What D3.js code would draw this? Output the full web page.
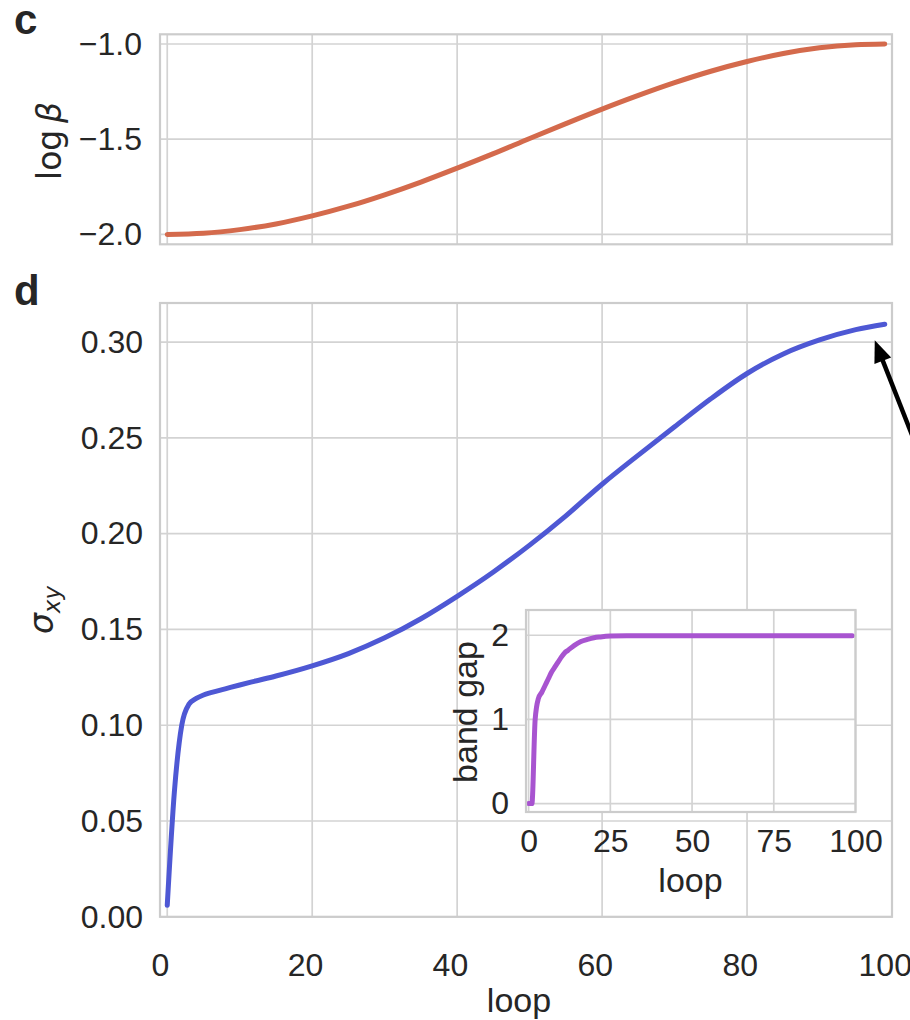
<!DOCTYPE html>
<html>
<head>
<meta charset="utf-8">
<script src="https://cdn.jsdelivr.net/npm/d3@7"></script>
<style>
  body { margin: 0; background: #fff; }
  svg { display: block; }
</style>
</head>
<body>
<div id="chart"></div>
<script>
// ---- data ----
const betaLoops = [0, 5, 10, 15, 20, 25, 30, 35, 40, 45, 50, 55, 60, 65, 70, 75, 80, 85, 90, 95, 99];
const logBeta = [-2.000, -1.994, -1.975, -1.945, -1.903, -1.852, -1.792, -1.725, -1.652, -1.576,
                 -1.496, -1.418, -1.342, -1.270, -1.203, -1.143, -1.092, -1.050, -1.020, -1.004, -1.000];

const sigmaLoops = [0, 1, 2, 3, 4, 5, 6, 8, 10, 12, 15, 20, 25, 30, 35, 40, 45, 50, 55, 60, 65, 70, 75, 80, 85, 90, 95, 99];
const sigmaXY = [0.006, 0.066, 0.100, 0.111, 0.114, 0.1158, 0.117, 0.119, 0.121, 0.1229, 0.1257, 0.1310,
                 0.1374, 0.1456, 0.1556, 0.1673, 0.1800, 0.1940, 0.2093, 0.2258, 0.2410, 0.2558, 0.2704,
                 0.2836, 0.2938, 0.3011, 0.3065, 0.3093];

const gapLoops = [0, 1, 2, 3, 4, 5, 6, 7, 8, 9, 10, 11, 12, 14, 16, 18, 20, 22, 25, 30, 40, 60, 80, 99];
const bandGap = [0, 0, 1.00, 1.25, 1.32, 1.40, 1.48, 1.56, 1.62, 1.68, 1.74, 1.79, 1.82, 1.88, 1.925,
                 1.95, 1.97, 1.98, 1.99, 1.995, 1.995, 1.995, 1.995, 1.995];

const loopTicks = [0, 20, 40, 60, 80, 100];
const betaTicks = [-2.0, -1.5, -1.0];
const sigmaTicks = [0, 0.05, 0.10, 0.15, 0.20, 0.25, 0.30];
const insetLoopTicks = [0, 25, 50, 75, 100];
const insetGapTicks = [0, 1, 2];

// ---- look ----
const TEXT = "#262626";
const GRID = "#d3d3d3";
const SPINE = "#cccccc";
const SANS = "'Liberation Sans', Arial, sans-serif";
const MATH = "'DejaVu Sans', sans-serif";

const svg = d3.select("#chart").append("svg")
  .attr("width", 910)
  .attr("height", 1020)
  .style("background", "#fff");

// shared loop axis for c and d
const x = d3.scaleLinear().domain([-1, 100]).range([160, 892]);
// the tick labels in the source sit one step left of the grid lines
const xLab = d3.scaleLinear().domain([0, 100]).range([x(-1), x(99)]);

const yBeta = d3.scaleLinear().domain([-2.052, -0.949]).range([244.3, 34.3]);
const ySig = d3.scaleLinear().domain([0, 0.3204]).range([916.8, 303]);

const xIn = d3.scaleLinear().domain([-0.8, 100]).range([526, 855.5]);
const yIn = d3.scaleLinear().domain([-0.1, 2.3]).range([812, 610]);

function drawGrid(g, xs, ys, xt, yt) {
  const [x0, x1] = xs.range();
  const [y0, y1] = ys.range();
  g.append("g").selectAll("line").data(xt).join("line")
    .attr("x1", d => xs(d)).attr("x2", d => xs(d))
    .attr("y1", y0).attr("y2", y1)
    .attr("stroke", GRID).attr("stroke-width", 1.7);
  g.append("g").selectAll("line").data(yt).join("line")
    .attr("x1", x0).attr("x2", x1)
    .attr("y1", d => ys(d)).attr("y2", d => ys(d))
    .attr("stroke", GRID).attr("stroke-width", 1.7);
}

function drawFrame(g, xs, ys) {
  const [x0, x1] = xs.range();
  const [y0, y1] = ys.range();
  g.append("rect")
    .attr("x", x0).attr("y", y1)
    .attr("width", x1 - x0).attr("height", y0 - y1)
    .attr("fill", "none")
    .attr("stroke", SPINE)
    .attr("stroke-width", 2.2);
}

function styleAxis(g, size) {
  g.select(".domain").remove();
  g.selectAll("text")
    .attr("fill", TEXT)
    .style("font-family", SANS)
    .style("font-size", size + "px");
}

function drawLine(g, xs, ys, xv, yv, color) {
  const pts = xv.map((v, i) => [v, yv[i]]);
  g.append("path")
    .datum(pts)
    .attr("fill", "none")
    .attr("stroke", color)
    .attr("stroke-width", 5)
    .attr("stroke-linecap", "round")
    .attr("stroke-linejoin", "round")
    .attr("d", d3.line().x(p => xs(p[0])).y(p => ys(p[1])).curve(d3.curveMonotoneX));
}

// ==================================================
// panel c : log beta
// ==================================================
const gc = svg.append("g");
drawGrid(gc, x, yBeta, loopTicks, betaTicks);
drawLine(gc, x, yBeta, betaLoops, logBeta, "#d46a4c");
drawFrame(gc, x, yBeta);

gc.append("g")
  .attr("transform", `translate(${x(-1)},0)`)
  .call(d3.axisLeft(yBeta).tickValues(betaTicks).tickFormat(d3.format(".1f")).tickSize(0).tickPadding(18))
  .call(g => styleAxis(g, 32));

const cLab = gc.append("text")
  .attr("transform", "translate(61,141) rotate(-90)")
  .attr("text-anchor", "middle")
  .attr("fill", TEXT)
  .style("font-family", MATH)
  .style("font-size", "33px");
cLab.append("tspan").text("log\u2009");
cLab.append("tspan").style("font-style", "italic").text("β");

// ==================================================
// panel d : sigma_xy
// ==================================================
const gd = svg.append("g");
drawGrid(gd, x, ySig, loopTicks, sigmaTicks);
drawLine(gd, x, ySig, sigmaLoops, sigmaXY, "#4e58d4");
drawFrame(gd, x, ySig);

gd.append("g")
  .attr("transform", `translate(${x(-1)},0)`)
  .call(d3.axisLeft(ySig).tickValues(sigmaTicks).tickFormat(d3.format(".2f")).tickSize(0).tickPadding(17))
  .call(g => styleAxis(g, 32));

gd.append("g")
  .attr("transform", `translate(0,${ySig(0)})`)
  .call(d3.axisBottom(xLab).tickValues(loopTicks).tickSize(0).tickPadding(36))
  .call(g => styleAxis(g, 32));

gd.append("text")
  .attr("x", 519).attr("y", 1012)
  .attr("text-anchor", "middle")
  .attr("fill", TEXT)
  .style("font-family", SANS)
  .style("font-size", "34px")
  .text("loop");

const dLab = gd.append("text")
  .attr("transform", "translate(53,610) rotate(-90)")
  .attr("text-anchor", "middle")
  .attr("fill", TEXT)
  .style("font-family", MATH)
  .style("font-size", "33px")
  .style("font-style", "italic");
dLab.append("tspan").text("σ");
dLab.append("tspan").attr("dy", 7).style("font-size", "23px").text("xy");

// arrow pointing at the end of the sigma curve
const endX = x(sigmaLoops[sigmaLoops.length - 1]);
const endY = ySig(sigmaXY[sigmaXY.length - 1]);
const tip = [endX - 10, endY + 16];
const dir = [59, 150];
const len = Math.hypot(dir[0], dir[1]);
const ux = dir[0] / len, uy = dir[1] / len;
const headL = 22, headW = 9;
const base = [tip[0] + ux * headL, tip[1] + uy * headL];
gd.append("line")
  .attr("x1", base[0] - ux * 2).attr("y1", base[1] - uy * 2)
  .attr("x2", tip[0] + dir[0]).attr("y2", tip[1] + dir[1])
  .attr("stroke", "#000")
  .attr("stroke-width", 4.5);
gd.append("path")
  .attr("d", d3.line()([
    tip,
    [base[0] - uy * headW, base[1] + ux * headW],
    [base[0] + uy * headW, base[1] - ux * headW]
  ]) + "Z")
  .attr("fill", "#000");

// ==================================================
// inset : band gap
// ==================================================
const gi = svg.append("g");
gi.append("rect")
  .attr("x", xIn.range()[0]).attr("y", yIn.range()[1])
  .attr("width", xIn.range()[1] - xIn.range()[0])
  .attr("height", yIn.range()[0] - yIn.range()[1])
  .attr("fill", "#fff");
drawGrid(gi, xIn, yIn, insetLoopTicks, insetGapTicks);
drawLine(gi, xIn, yIn, gapLoops, bandGap, "#a854d0");
drawFrame(gi, xIn, yIn);

gi.append("g")
  .attr("transform", `translate(${xIn.range()[0]},0)`)
  .call(d3.axisLeft(yIn).tickValues(insetGapTicks).tickFormat(d3.format("d")).tickSize(0).tickPadding(17))
  .call(g => styleAxis(g, 32));

gi.append("g")
  .attr("transform", `translate(0,${yIn.range()[0]})`)
  .call(d3.axisBottom(xIn).tickValues(insetLoopTicks).tickSize(0).tickPadding(17))
  .call(g => styleAxis(g, 32));

gi.append("text")
  .attr("x", 690.5).attr("y", 892)
  .attr("text-anchor", "middle")
  .attr("fill", TEXT)
  .style("font-family", SANS)
  .style("font-size", "34px")
  .text("loop");

gi.append("text")
  .attr("transform", "translate(477,712) rotate(-90)")
  .attr("text-anchor", "middle")
  .attr("fill", TEXT)
  .style("font-family", SANS)
  .style("font-size", "34px")
  .text("band gap");

// panel letters
[["c", 34], ["d", 305]].forEach(([t, yy]) => {
  svg.append("text")
    .attr("x", 14).attr("y", yy)
    .attr("fill", TEXT)
    .style("font-family", SANS)
    .style("font-weight", "bold")
    .style("font-size", "42px")
    .text(t);
});
</script>
</body>
</html>
